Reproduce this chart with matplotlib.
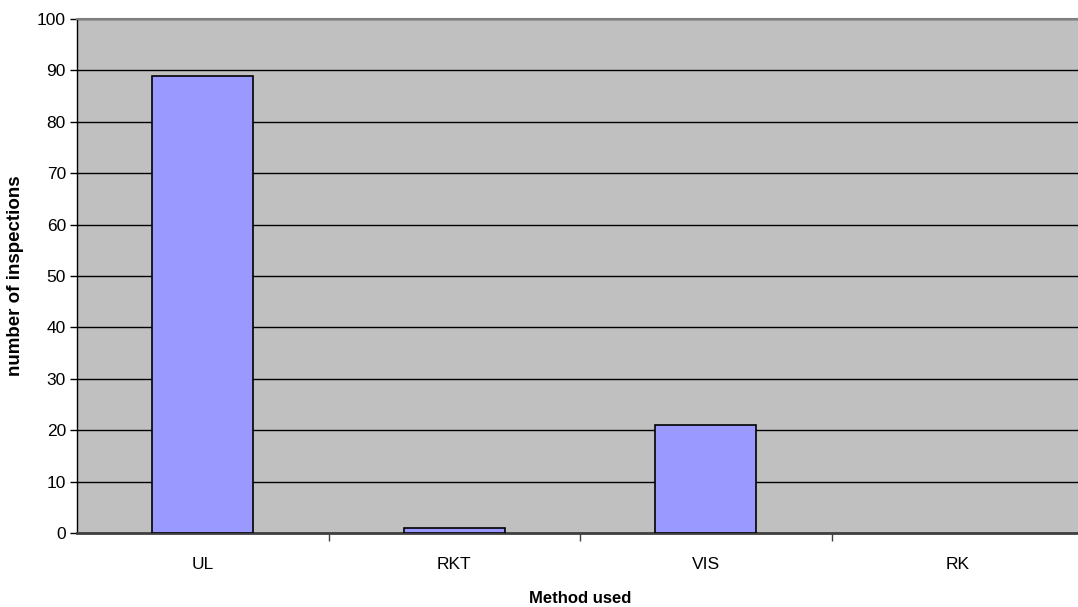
import matplotlib
matplotlib.use("Agg")
import matplotlib.pyplot as plt

methods = ["UL", "RKT", "VIS", "RK"]
inspections = [89, 1, 21, 0]
y_ticks = list(range(0, 101, 10))

plt.rcParams["font.family"] = ["Liberation Sans", "DejaVu Sans"]

W, H = 1078, 607
fig = plt.figure(figsize=(W / 100, H / 100), dpi=100)
left, right, top, bottom = 77, 1083, 19, 533
ax = fig.add_axes([left / W, 1 - bottom / H, (right - left) / W, (bottom - top) / H])
ax.set_facecolor("#C0C0C0")

x = list(range(len(methods)))
# zero-height bars leave no outline behind
edge_widths = [1.2 if v > 0 else 0 for v in inspections]
ax.bar(x, inspections, width=0.4, color="#9999FF", edgecolor="black",
       linewidth=edge_widths, zorder=3)

ax.set_xlim(-0.5, len(methods) - 0.5)
ax.set_ylim(0, 100)
ax.set_yticks(y_ticks)
ax.set_yticklabels([str(v) for v in y_ticks], fontsize=12.5)

# category boundaries carry the tick marks; labels sit at the centres
ax.set_xticks([i + 0.5 for i in range(len(methods) - 1)])
ax.set_xticklabels([])
ax.set_xticks(x, minor=True)
ax.set_xticklabels(methods, minor=True, fontsize=12.5)
ax.tick_params(axis="x", which="minor", length=0, pad=17)
ax.tick_params(axis="x", which="major", length=6, width=1, color="#404040")
ax.tick_params(axis="y", length=5, width=1, pad=3)

ax.grid(axis="y", color="black", linewidth=1, zorder=1)
ax.set_axisbelow(True)

ax.spines["right"].set_visible(False)
ax.spines["top"].set_color("#808080")
ax.spines["top"].set_linewidth(1.5)
ax.spines["bottom"].set_color("#404040")
ax.spines["bottom"].set_linewidth(2)
ax.spines["left"].set_color("black")
ax.spines["left"].set_linewidth(1)

ax.set_ylabel("number of inspections", fontsize=13.5, fontweight="bold", labelpad=9)
ax.set_xlabel("Method used", fontsize=12, fontweight="bold", labelpad=14)

fig.savefig("out.png", dpi=100)
